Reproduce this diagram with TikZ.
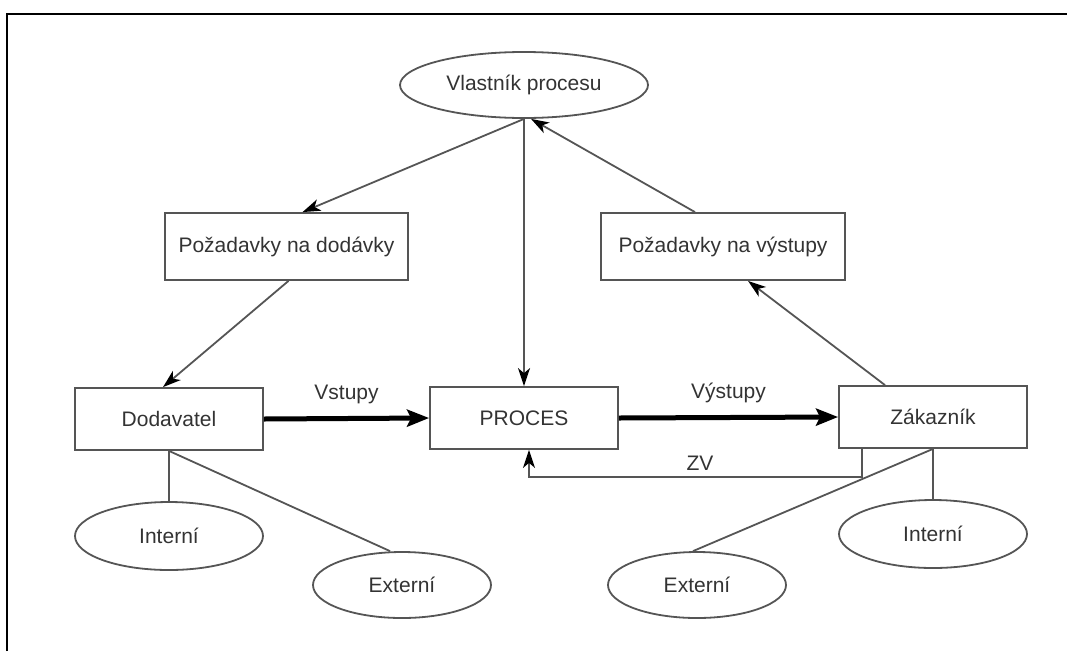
\documentclass[tikz,border=0pt]{standalone}
\usepackage{fontspec}
\setmainfont{Liberation Sans}
\usetikzlibrary{shapes.geometric,arrows.meta,calc}
\definecolor{linegray}{HTML}{555555}
\definecolor{textgray}{HTML}{333333}
\tikzset{
  boxnode/.style={draw=linegray, line width=1.8pt, rectangle, text=textgray, inner sep=0pt, font=\fontsize{21}{25}\selectfont},
  ovalnode/.style={draw=linegray, line width=1.8pt, ellipse, text=textgray, inner sep=0pt, font=\fontsize{21}{25}\selectfont},
  conn/.style={draw=linegray, line width=1.8pt},
  arr/.style={conn, -{Stealth[length=18pt,width=12pt,inset=5pt,color=black]}},
  bigarr/.style={draw=black, line width=5pt, -{Stealth[length=22pt,width=17pt,inset=4pt]}},
  lbl/.style={text=textgray, font=\fontsize{21}{25}\selectfont, inner sep=0pt}
}
\begin{document}
\begin{tikzpicture}[x=1pt,y=-1pt]
\useasboundingbox (0,0) rectangle (1067,651);
\draw[line width=2.5pt, black] (7,651) -- (7,14) -- (1067,14);

\node[ovalnode, minimum width=248pt, minimum height=66pt] (vl) at (524,85) {Vlastník procesu};
\node[boxnode, minimum width=243pt, minimum height=67pt] (pd) at (286.5,246.5) {Požadavky na dodávky};
\node[boxnode, minimum width=244pt, minimum height=67pt] (pv) at (723,246.5) {Požadavky na výstupy};
\node[boxnode, minimum width=188pt, minimum height=62pt] (dod) at (169,419) {Dodavatel};
\node[boxnode, minimum width=188pt, minimum height=62pt] (proc) at (524,418) {PROCES};
\node[boxnode, minimum width=188pt, minimum height=62pt] (zak) at (933,417) {Zákazník};
\node[ovalnode, minimum width=188pt, minimum height=68pt] (il) at (169,536) {Interní};
\node[ovalnode, minimum width=178pt, minimum height=66pt] (el) at (402,585) {Externí};
\node[ovalnode, minimum width=178pt, minimum height=66pt] (er) at (697,585) {Externí};
\node[ovalnode, minimum width=188pt, minimum height=68pt] (ir) at (933,534) {Interní};

% top connectors
\draw[arr] (vl.south) -- ([xshift=16pt]pd.north);
\draw[arr] (vl.south) -- (proc.north);
\draw[arr] ([xshift=-28pt]pv.north) -- ([xshift=7pt]vl.south);
\draw[arr] ([xshift=2pt]pd.south) -- ([xshift=-6pt]dod.north);
\draw[arr] ([xshift=-48pt]zak.north) -- ([xshift=25pt]pv.south);

% main flow
\draw[bigarr] (dod.east) -- (proc.west) node[lbl, midway, above=12pt] {Vstupy};
\draw[bigarr] (proc.east) -- (zak.west) node[lbl, midway, above=12pt] {Výstupy};

% feedback ZV
\coordinate (zvc) at (529,477);
\draw[arr] ([xshift=24pt]zak.south west) |- (zvc) -- ([xshift=5pt]proc.south);
\node[lbl] (zv) at (700,463) {ZV};

% bottom lines
\draw[conn] (dod.south) -- (il.north);
\draw[conn] (dod.south) -- ([xshift=-12pt]el.north);
\draw[conn] (zak.south) -- (ir.north);
\draw[conn] (zak.south) -- ([xshift=-4pt]er.north);
\end{tikzpicture}
\end{document}
